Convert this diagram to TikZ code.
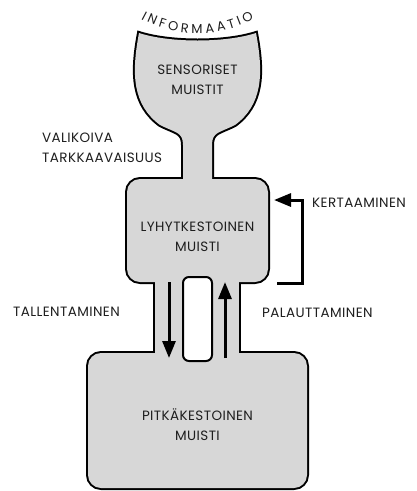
\documentclass[tikz,border=0pt]{standalone}
\usepackage{fontspec}
\setmainfont{Poppins}[LetterSpace=3]
\usetikzlibrary{arrows.meta,decorations.text}
\definecolor{shapegray}{RGB}{215,215,215}
\definecolor{ink}{RGB}{30,30,30}
\begin{document}
\begin{tikzpicture}[x=1pt,y=1pt,
  lbl/.style={font=\fontsize{13.5}{20}\selectfont, text=ink, inner sep=0pt},
  flow/.style={line width=3pt, -{Triangle[width=13pt,length=17pt]}},
  outline/.style={line width=4pt, draw=black},
  body/.style={fill=shapegray},
  stmbox/.style={rounded corners=13pt},
]
\useasboundingbox (0,0) rectangle (416,-491);
\def\cuppath{(139,-33) .. controls (170,-43) and (225,-43) .. (256,-33)
  .. controls (264,-75) and (262,-105) .. (235,-125)
  .. controls (219,-133) and (212,-132) .. (212,-145) -- (212,-190) -- (183,-190) -- (183,-145)
  .. controls (183,-132) and (176,-133) .. (160,-125)
  .. controls (133,-105) and (131,-75) .. (139,-33) -- cycle}
% outline pass
\draw[outline] \cuppath;
\draw[outline,stmbox] (127,-179) rectangle (268,-282);
\draw[outline] (155,-270) rectangle (239,-365);
\draw[outline,stmbox] (88,-353) rectangle (307,-488);
% fill pass
\fill[body] \cuppath;
\fill[body,stmbox] (127,-179) rectangle (268,-282);
\fill[body] (155,-270) rectangle (239,-365);
\fill[body,stmbox] (88,-353) rectangle (307,-488);
% hole
\draw[line width=2pt, fill=white, rounded corners=6pt] (183,-277) rectangle (212,-361);

% labels
\node[lbl, align=center] (sens) at (197.5,-80) {SENSORISET\\MUISTIT};
\node[lbl, align=center] (stm) at (197.5,-237) {LYHYTKESTOINEN\\MUISTI};
\node[lbl, align=center] (ltm) at (197.5,-425) {PITKÄKESTOINEN\\MUISTI};
\node[lbl, align=left, anchor=west] (valik) at (42,-148) {VALIKOIVA\\TARKKAAVAISUUS};
\node[lbl, anchor=west] (tall) at (13,-312) {TALLENTAMINEN};
\node[lbl, anchor=west] (pal) at (262,-313) {PALAUTTAMINEN};
\node[lbl, anchor=west] (kert) at (312,-203) {KERTAAMINEN};

% arrows
\coordinate (dtop) at (169,-282);
\coordinate (dbot) at (169,-358);
\coordinate (utop) at (225,-282);
\coordinate (ubot) at (225,-358);
\draw[flow] (dtop) -- (dbot);
\draw[flow] (ubot) -- (utop);
\coordinate (kbot) at (277,-283);
\coordinate (ktop) at (274,-200);
\draw[flow] (kbot) -- (302,-283) -- (302,-200) -- (ktop);

% arched text
{\fontsize{13}{15}\selectfont
\path[decorate, decoration={text along path, text={INFORMAATIO}, text align={fit to path}, text color=ink}]
  (141,-19) .. controls (176,-38) and (219,-38) .. (254,-19);}
\end{tikzpicture}
\end{document}
